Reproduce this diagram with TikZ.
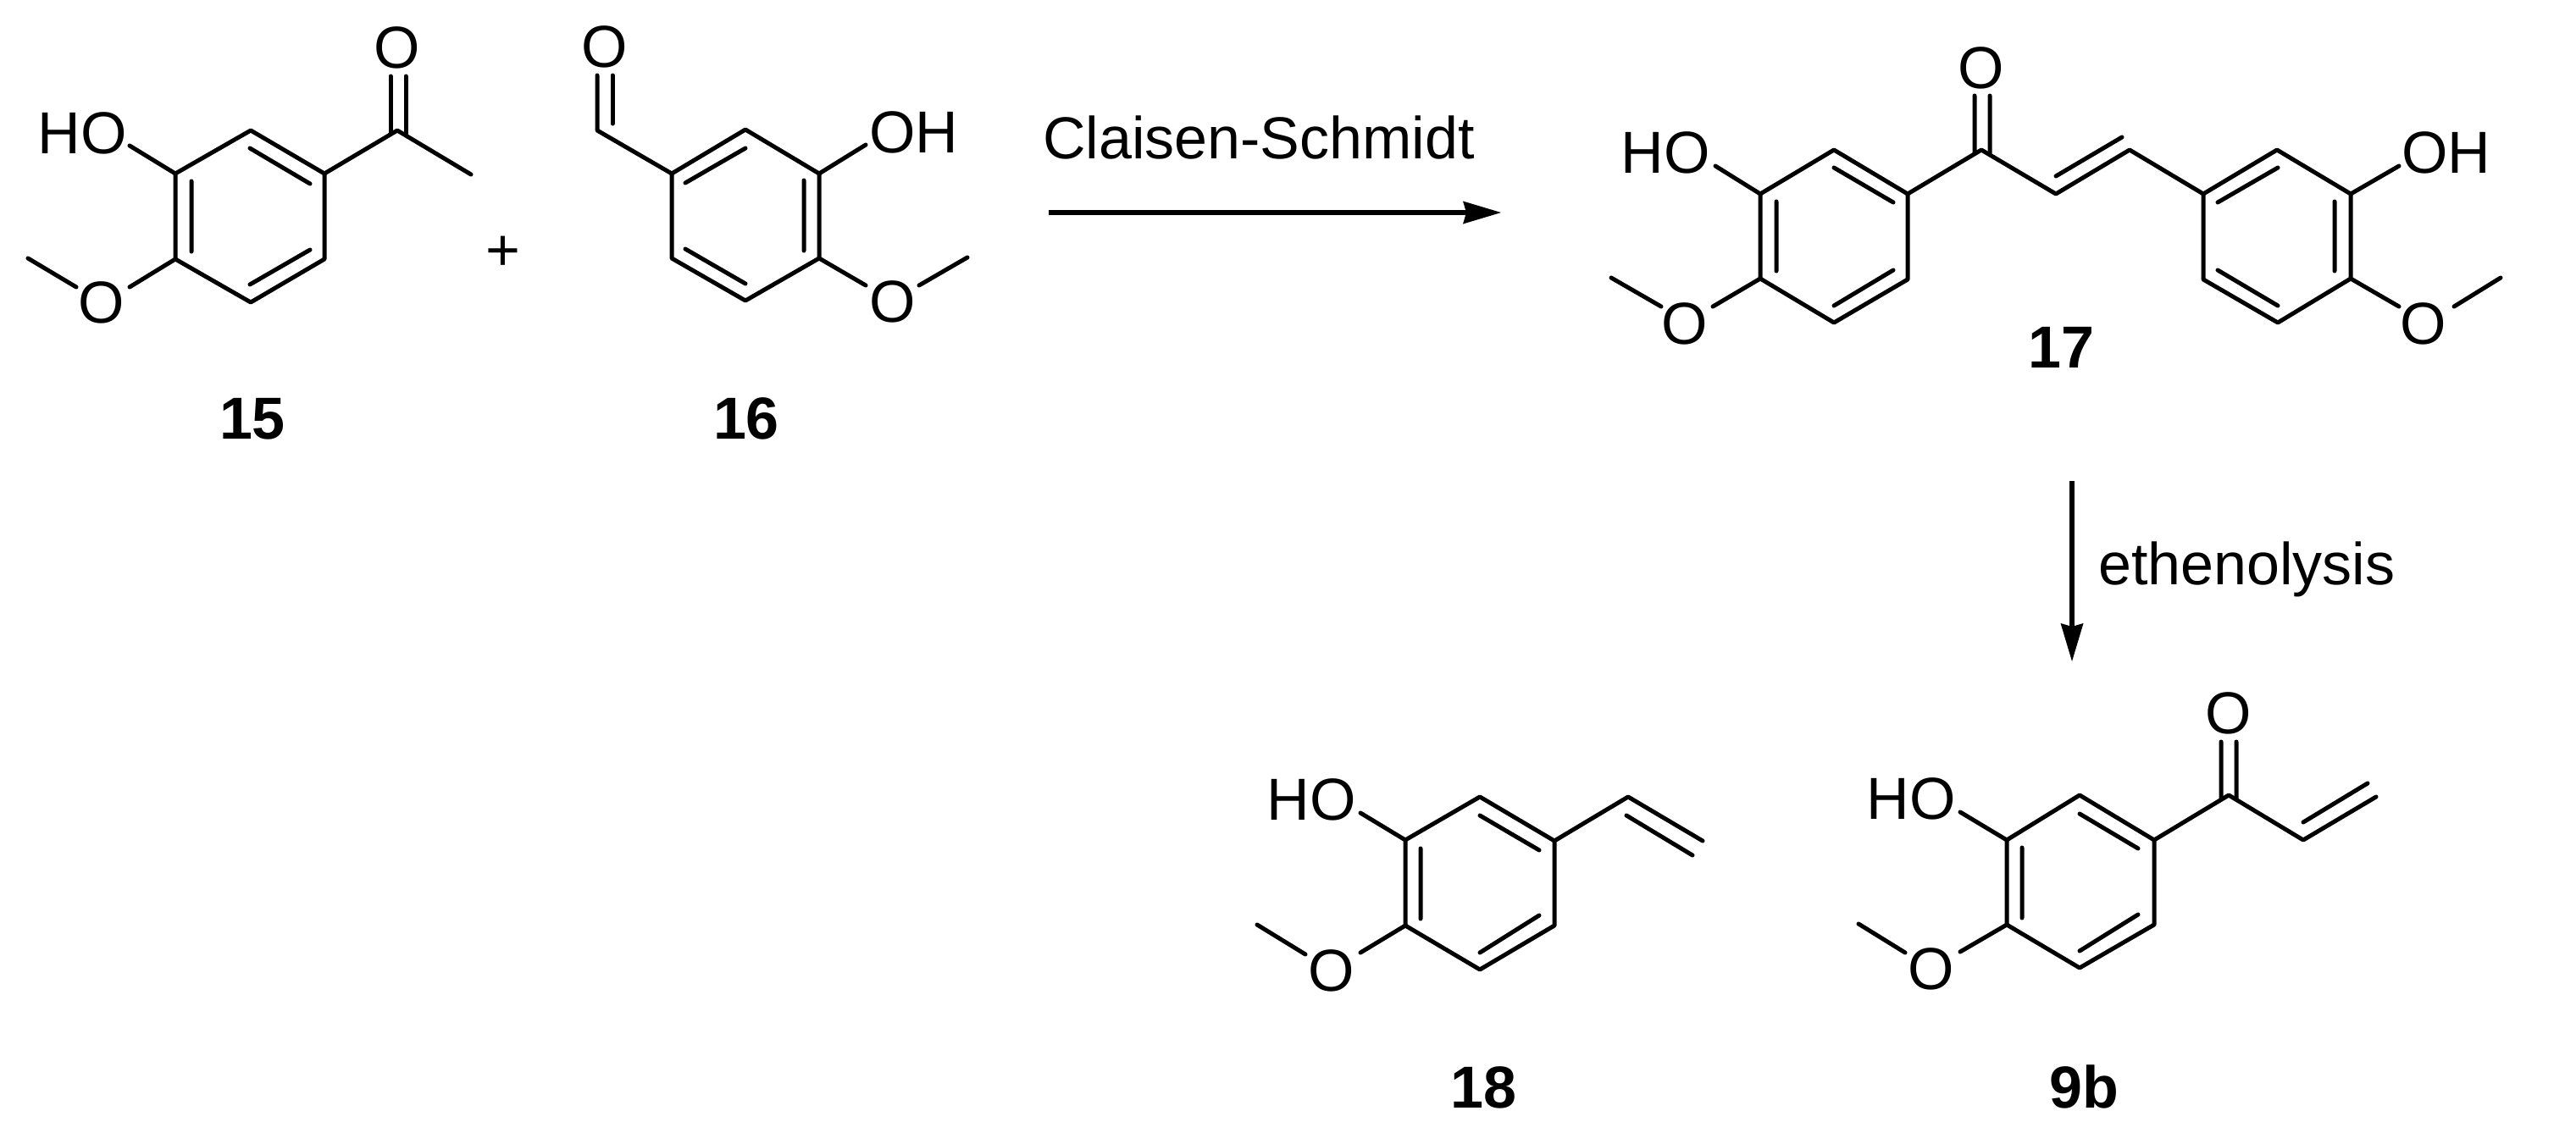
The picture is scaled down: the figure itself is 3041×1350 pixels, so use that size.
\documentclass[tikz,border=0pt]{standalone}
\usepackage{fontspec}
\setmainfont{Liberation Sans}
\usetikzlibrary{arrows.meta}
\tikzset{
  bond/.style={line width=5pt,line cap=round,line join=round,black},
  reaction/.style={line width=5.2pt,black,-{Stealth[length=45pt,width=27pt,inset=4pt,line width=0pt]}},
  atom/.style={anchor=base,inner sep=0pt,font=\fontsize{70}{84}\selectfont},
  cmpd/.style={anchor=base,inner sep=0pt,font=\fontsize{70}{84}\selectfont\bfseries},
  cond/.style={anchor=base,inner sep=0pt,font=\fontsize{70}{84}\selectfont},
}
\begin{document}
\begin{tikzpicture}[x=1pt,y=-1pt]
\useasboundingbox (0,0) rectangle (3041,1350);
% ---------- 15
\coordinate (a1) at (296,154);\coordinate (a2) at (383,205);\coordinate (a3) at (383,306);
\coordinate (a4) at (296,357);\coordinate (a5) at (207,306);\coordinate (a6) at (207,205);
\coordinate (a7) at (469,154);\coordinate (a8) at (556,206);
\coordinate (aO1t) at (461,90);\coordinate (aO1b) at (461,158);
\coordinate (aO2t) at (479,90);\coordinate (aO2b) at (479,158);
\coordinate (ahe) at (153,172);\coordinate (ame) at (153,339);
\coordinate (amm1) at (90,339);\coordinate (amm2) at (33,305);
\coordinate (ai1) at (295,175);\coordinate (ai2) at (366,217);
\coordinate (ai3) at (226,214);\coordinate (ai4) at (226,297);
\coordinate (ai5) at (366,295);\coordinate (ai6) at (295,336);
\draw[bond] (a1)--(a2)--(a3)--(a4)--(a5)--(a6)--cycle;
\draw[bond] (a2)--(a7)--(a8);
\draw[bond] (aO1t)--(aO1b) (aO2t)--(aO2b);
\draw[bond] (a6)--(ahe) (a5)--(ame) (amm1)--(amm2);
\draw[bond] (ai1)--(ai2) (ai3)--(ai4) (ai5)--(ai6);
\node[atom] (aO) at (469,80) {O};
\node[atom] (aHO) at (97,181) {HO};
\node[atom] (aOMe) at (120,381) {O};
\node[cmpd] (n15) at (298,518) {15};
\node[atom] (plus) at (594,319) {+};
% ---------- 16
\coordinate (b1) at (880,153);\coordinate (b2) at (793,205);\coordinate (b3) at (793,305);
\coordinate (b4) at (880,355);\coordinate (b5) at (967,305);\coordinate (b6) at (967,205);
\coordinate (b7) at (705,154);
\coordinate (bO1t) at (705,89);
\coordinate (bO2t) at (723,89);\coordinate (bO2b) at (723,146);
\coordinate (bhe) at (1022,171);\coordinate (bme) at (1022,337);
\coordinate (bmm1) at (1085,337);\coordinate (bmm2) at (1142,304);
\coordinate (bi1) at (880,175);\coordinate (bi2) at (809,216);
\coordinate (bi3) at (949,213);\coordinate (bi4) at (949,296);
\coordinate (bi5) at (809,294);\coordinate (bi6) at (880,335);
\draw[bond] (b1)--(b2)--(b3)--(b4)--(b5)--(b6)--cycle;
\draw[bond] (b2)--(b7)--(bO1t);
\draw[bond] (bO2t)--(bO2b);
\draw[bond] (b6)--(bhe) (b5)--(bme) (bmm1)--(bmm2);
\draw[bond] (bi1)--(bi2) (bi3)--(bi4) (bi5)--(bi6);
\node[atom] (bO) at (714,79) {O};
\node[atom] (bOH) at (1079,180) {OH};
\node[atom] (bOMe) at (1054,380) {O};
\node[cmpd] (n16) at (881,518) {16};
% ---------- arrow 1
\coordinate (r1s) at (1238,251);\coordinate (r1e) at (1772,251);
\draw[reaction] (r1s)--(r1e);
\node[cond] (cs) at (1486,187) {Claisen-Schmidt};
% ---------- 17
\coordinate (c1) at (2165,177);\coordinate (c2) at (2252,229);\coordinate (c3) at (2252,330);
\coordinate (c4) at (2165,381);\coordinate (c5) at (2078,329);\coordinate (c6) at (2078,229);
\coordinate (c7) at (2339,177);\coordinate (c8) at (2427,229);\coordinate (c9) at (2514,177);
\coordinate (d1) at (2688,177);\coordinate (d2) at (2775,229);\coordinate (d3) at (2775,329);
\coordinate (d4) at (2689,381);\coordinate (d5) at (2601,330);\coordinate (d6) at (2601,229);
\coordinate (cO1t) at (2331,113);\coordinate (cO1b) at (2331,181);
\coordinate (cO2t) at (2349,113);\coordinate (cO2b) at (2349,181);
\coordinate (cv1) at (2427,208);\coordinate (cv2) at (2505,162);
\coordinate (che) at (2025,196);\coordinate (cme) at (2022,362);
\coordinate (cmm1) at (1961,362);\coordinate (cmm2) at (1902,328);
\coordinate (dhe) at (2832,196);\coordinate (dme) at (2832,362);
\coordinate (dmm1) at (2897,362);\coordinate (dmm2) at (2952,328);
\coordinate (ci1) at (2165,198);\coordinate (ci2) at (2235,239);
\coordinate (ci3) at (2097,238);\coordinate (ci4) at (2097,320);
\coordinate (ci5) at (2235,319);\coordinate (ci6) at (2165,361);
\coordinate (di1) at (2689,198);\coordinate (di2) at (2618,239);
\coordinate (di3) at (2756,238);\coordinate (di4) at (2756,320);
\coordinate (di5) at (2618,319);\coordinate (di6) at (2689,361);
\draw[bond] (c1)--(c2)--(c3)--(c4)--(c5)--(c6)--cycle;
\draw[bond] (d1)--(d2)--(d3)--(d4)--(d5)--(d6)--cycle;
\draw[bond] (c2)--(c7)--(c8)--(c9)--(d6);
\draw[bond] (cO1t)--(cO1b) (cO2t)--(cO2b) (cv1)--(cv2);
\draw[bond] (c6)--(che) (c5)--(cme) (cmm1)--(cmm2);
\draw[bond] (d2)--(dhe) (d3)--(dme) (dmm1)--(dmm2);
\draw[bond] (ci1)--(ci2) (ci3)--(ci4) (ci5)--(ci6);
\draw[bond] (di1)--(di2) (di3)--(di4) (di5)--(di6);
\node[atom] (cO) at (2339,104) {O};
\node[atom] (cHO) at (1966,204) {HO};
\node[atom] (dOH) at (2888,204) {OH};
\node[atom] (cOMe) at (1989,406) {O};
\node[atom] (dOMe) at (2861,406) {O};
\node[cmpd] (n17) at (2433,434) {17};
% ---------- arrow 2
\coordinate (r2s) at (2446,568);\coordinate (r2e) at (2446,781);
\draw[reaction] (r2s)--(r2e);
\node[cond,anchor=base west] (eth) at (2477,690) {ethenolysis};
% ---------- 18
\coordinate (e1) at (1747,941);\coordinate (e2) at (1835,993);\coordinate (e3) at (1835,1093);
\coordinate (e4) at (1747,1145);\coordinate (e5) at (1659,1093);\coordinate (e6) at (1659,992);
\coordinate (e7) at (1922,941);\coordinate (e8) at (2010,993);
\coordinate (ev1) at (1920,963);\coordinate (ev2) at (1998,1010);
\coordinate (ehe) at (1606,960);\coordinate (eme) at (1606,1125);
\coordinate (emm1) at (1541,1127);\coordinate (emm2) at (1484,1092);
\coordinate (ei1) at (1747,963);\coordinate (ei2) at (1817,1004);
\coordinate (ei3) at (1677,1002);\coordinate (ei4) at (1677,1085);
\coordinate (ei5) at (1817,1081);\coordinate (ei6) at (1747,1125);
\draw[bond] (e1)--(e2)--(e3)--(e4)--(e5)--(e6)--cycle;
\draw[bond] (e2)--(e7)--(e8) (ev1)--(ev2);
\draw[bond] (e6)--(ehe) (e5)--(eme) (emm1)--(emm2);
\draw[bond] (ei1)--(ei2) (ei3)--(ei4) (ei5)--(ei6);
\node[atom] (eHO) at (1548,968) {HO};
\node[atom] (eOMe) at (1572,1170) {O};
\node[cmpd] (n18) at (1751,1308) {18};
% ---------- 9b
\coordinate (f1) at (2455,939);\coordinate (f2) at (2543,992);\coordinate (f3) at (2543,1092);
\coordinate (f4) at (2455,1143);\coordinate (f5) at (2369,1092);\coordinate (f6) at (2369,992);
\coordinate (f7) at (2631,939);\coordinate (f8) at (2719,992);\coordinate (f9) at (2805,941);
\coordinate (fO1t) at (2622,876);\coordinate (fO1b) at (2622,943);
\coordinate (fO2t) at (2640,876);\coordinate (fO2b) at (2640,943);
\coordinate (fv1) at (2719,971);\coordinate (fv2) at (2795,925);
\coordinate (fhe) at (2314,959);\coordinate (fme) at (2314,1124);
\coordinate (fmm1) at (2249,1125);\coordinate (fmm2) at (2194,1091);
\coordinate (fi1) at (2455,961);\coordinate (fi2) at (2524,1002);
\coordinate (fi3) at (2387,1001);\coordinate (fi4) at (2387,1084);
\coordinate (fi5) at (2524,1080);\coordinate (fi6) at (2455,1123);
\draw[bond] (f1)--(f2)--(f3)--(f4)--(f5)--(f6)--cycle;
\draw[bond] (f2)--(f7)--(f8)--(f9);
\draw[bond] (fO1t)--(fO1b) (fO2t)--(fO2b) (fv1)--(fv2);
\draw[bond] (f6)--(fhe) (f5)--(fme) (fmm1)--(fmm2);
\draw[bond] (fi1)--(fi2) (fi3)--(fi4) (fi5)--(fi6);
\node[atom] (fO) at (2631,866) {O};
\node[atom] (fHO) at (2256,967) {HO};
\node[atom] (fOMe) at (2280,1168) {O};
\node[cmpd] (n9b) at (2460,1308) {9b};
\end{tikzpicture}
\end{document}
